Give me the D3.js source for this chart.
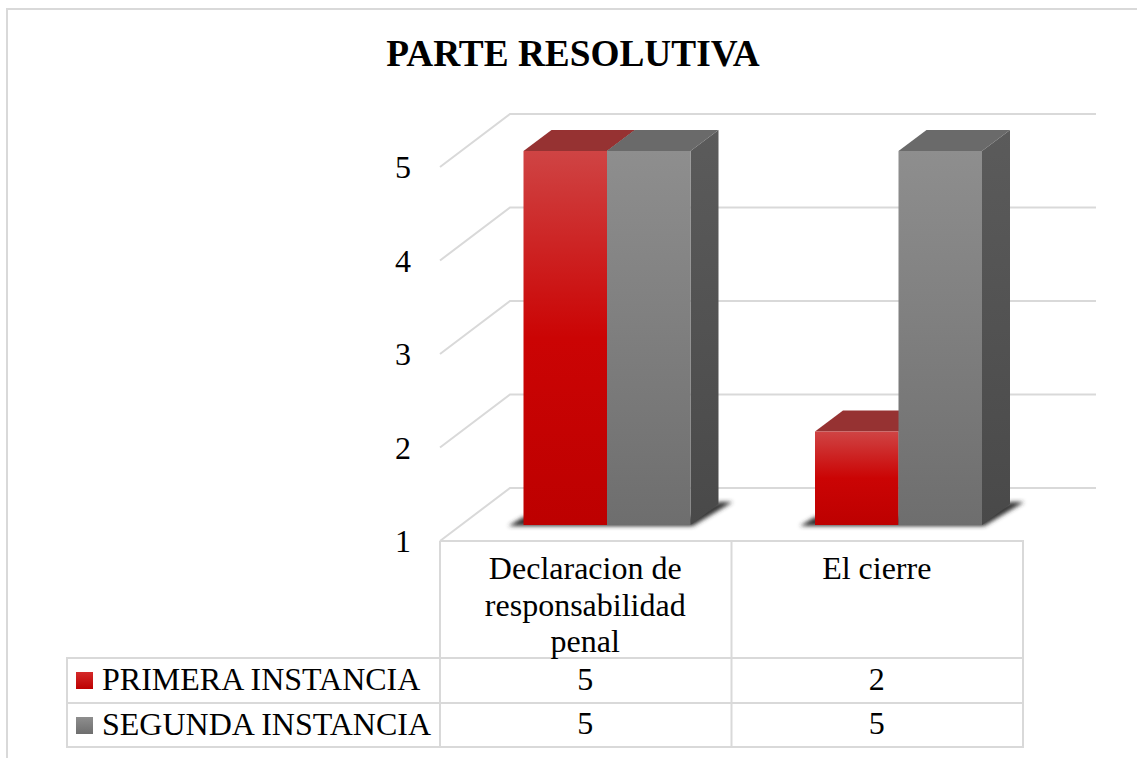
<!DOCTYPE html>
<html>
<head>
<meta charset="utf-8">
<script src="https://d3js.org/d3.v7.min.js"></script>
<style>
  html, body { margin: 0; padding: 0; background: #fff; }
  svg { display: block; }
  text { font-family: "Liberation Serif", serif; fill: #000; }
</style>
</head>
<body>
<svg id="chart" width="1137" height="758"></svg>
<script>
const title = "PARTE RESOLUTIVA";
const categories = ["Declaracion de responsabilidad penal", "El cierre"];
const categoryLines = [["Declaracion de", "responsabilidad", "penal"], ["El cierre"]];
const seriesNames = ["PRIMERA INSTANCIA", "SEGUNDA INSTANCIA"];
const primera = [5, 2];
const segunda = [5, 5];
const yTicks = [1, 2, 3, 4, 5];

const GRID = "#d9d9d9";
const DEPTH = { X: 28, Y: 21 };
const FLOOR = { X: 70, Y: 53 };
const BAR_GROUP = 167;
const FONT_SIZE = 32;
const svg = d3.select("#chart");

// axis value -> y on the front plane of the box
const y = d3.scaleLinear().domain([1, 5]).range([541, 167]);
// the table columns double as category bands
const x = d3.scaleBand().domain(categories).range([440, 1023]);
const seriesX = d3.scaleBand().domain(seriesNames).range([0, BAR_GROUP]);

// gradients
const defs = svg.append("defs");
function addGradient(id, stops) {
  const g = defs.append("linearGradient").attr("id", id)
    .attr("x1", 0).attr("y1", 0).attr("x2", 0).attr("y2", 1);
  stops.forEach((s) => g.append("stop").attr("offset", s[0]).attr("stop-color", s[1]));
}
addGradient("red-face", [[0, "#cf4444"], [0.5, "#cb0404"], [1, "#bd0000"]]);
addGradient("gray-face", [[0, "#8e8e8e"], [1, "#6e6e6e"]]);
addGradient("gray-side", [[0, "#5b5b5b"], [1, "#494949"]]);
addGradient("swatch-red", [[0, "#d42a2a"], [1, "#bd0000"]]);
addGradient("swatch-gray", [[0, "#8e8e8e"], [1, "#6e6e6e"]]);
defs.append("filter").attr("id", "soft")
  .attr("x", "-10%").attr("y", "-30%").attr("width", "120%").attr("height", "160%")
  .append("feGaussianBlur").attr("stdDeviation", 2);

// page frame
svg.append("path").attr("d", "M7,758V9H1137")
  .attr("stroke", GRID).attr("stroke-width", 2).attr("fill", "none");

// title
svg.append("text").attr("x", 573).attr("y", 66).attr("text-anchor", "middle")
  .attr("font-size", 37.3).attr("font-weight", "bold").text(title);

// back wall and side wall gridlines
const grid = svg.append("g").attr("stroke", GRID).attr("stroke-width", 2).attr("fill", "none");
yTicks.forEach((t) => {
  const yf = y(t);
  grid.append("path").attr("d", `M440,${yf}L${440 + FLOOR.X},${yf - FLOOR.Y}H1096`);
});

// y tick labels
svg.append("g").selectAll("text").data(yTicks).join("text")
  .attr("x", 411).attr("y", (d) => y(d) + 11)
  .attr("text-anchor", "end").attr("font-size", FONT_SIZE).text((d) => d);

// bars
const base = y(1) - 16;
const valueY = (v) => base - (y(1) - y(v));
const barWidth = seriesX.bandwidth();

function drawBar(g, left, value, faceFill, topFill) {
  const top = valueY(value);
  const right = left + barWidth;
  g.append("path").attr("fill", topFill)
    .attr("d", `M${left},${top}l${DEPTH.X},${-DEPTH.Y}H${right + DEPTH.X}L${right},${top}Z`);
  g.append("path").attr("fill", "url(#gray-side)")
    .attr("d", `M${right},${top}l${DEPTH.X},${-DEPTH.Y}V${base - DEPTH.Y}L${right},${base}Z`);
  g.append("rect").attr("x", left).attr("y", top)
    .attr("width", barWidth).attr("height", base - top).attr("fill", faceFill);
}

const bars = svg.append("g");
categories.forEach((c, i) => {
  const g = bars.append("g");
  const left = x(c) + 83.5;
  const right = left + BAR_GROUP;
  // floor shadow
  g.append("path").attr("fill", "#333").attr("filter", "url(#soft)")
    .attr("d", `M${left - 15},${base + 1}L${left},${base - 8}H${right}L${right + DEPTH.X},${base - 23}H${right + DEPTH.X + 14}L${right + 2},${base + 1}Z`);
  // primera first, segunda overlaps its side
  drawBar(g, left + seriesX(seriesNames[0]), primera[i], "url(#red-face)", "#963232");
  drawBar(g, left + seriesX(seriesNames[1]), segunda[i], "url(#gray-face)", "#6a6a6a");
});

// data table
const rows = [658, 703, 747];
const table = svg.append("g").attr("stroke", GRID).attr("stroke-width", 2).attr("fill", "none");
table.append("path").attr("d", `M440,541H1023V${rows[2]}H67V${rows[0]}H1023`);
table.append("path").attr("d", `M67,${rows[1]}H1023`);
[440, 731.5].forEach((vx) => table.append("path").attr("d", `M${vx},541V${rows[2]}`));

categories.forEach((c, i) => {
  const cx = x(c) + x.bandwidth() / 2 - 0.5;
  categoryLines[i].forEach((line, k) => {
    svg.append("text").attr("x", cx).attr("y", 579 + k * 36.5).attr("text-anchor", "middle")
      .attr("font-size", FONT_SIZE).text(line);
  });
  svg.append("text").attr("x", cx).attr("y", 690).attr("text-anchor", "middle")
    .attr("font-size", FONT_SIZE).text(primera[i]);
  svg.append("text").attr("x", cx).attr("y", 734).attr("text-anchor", "middle")
    .attr("font-size", FONT_SIZE).text(segunda[i]);
});

seriesNames.forEach((name, i) => {
  const rowTop = rows[i];
  svg.append("rect").attr("x", 76).attr("y", rowTop + 14).attr("width", 17).attr("height", 17)
    .attr("fill", i === 0 ? "url(#swatch-red)" : "url(#swatch-gray)");
  svg.append("text").attr("x", 102).attr("y", rowTop + 32).attr("font-size", FONT_SIZE).text(name);
});
</script>
</body>
</html>
